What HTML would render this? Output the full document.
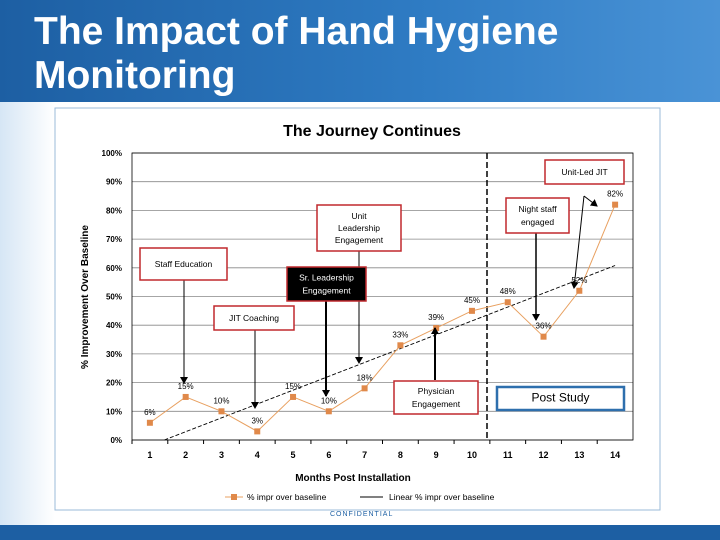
<!DOCTYPE html>
<html><head><meta charset="utf-8"><style>
body{margin:0;width:720px;height:540px;overflow:hidden;background:#fff;font-family:"Liberation Sans",sans-serif;position:relative}
#hdr{position:absolute;left:0;top:0;width:720px;height:102px;background:linear-gradient(90deg,#1d5fa3,#2f7cc4 60%,#4a93d6)}
#hdr h1{margin:0;position:absolute;left:34px;top:10px;color:#fff;font-size:39px;line-height:44px;font-weight:bold;white-space:nowrap}
#side{position:absolute;left:0;top:102px;width:55px;height:423px;background:linear-gradient(90deg,#d6e6f5,#fff)}
#foot{position:absolute;left:0;top:525px;width:720px;height:15px;background:#1d5fa3}
#conf{position:absolute;left:330px;top:511px;font-size:7px;letter-spacing:1px;color:#1d5fa3}
</style></head><body>
<div id="hdr"><h1>The Impact of Hand Hygiene<br>Monitoring</h1></div>
<div id="side"></div>
<div id="foot"></div>
<div id="conf">CONFIDENTIAL</div>
<svg id="c" width="720" height="540" style="position:absolute;left:0;top:0"></svg>
<script>
const categories=[1,2,3,4,5,6,7,8,9,10,11,12,13,14];
const values=[6,15,10,3,15,10,18,33,39,45,48,36,52,82];
const yTicks=[0,10,20,30,40,50,60,70,80,90,100];
const yTickLabels=["0%","10%","20%","30%","40%","50%","60%","70%","80%","90%","100%"];
const NS="http://www.w3.org/2000/svg",svg=document.getElementById('c');
const L=132,R=633,T=153,B=440,step=(R-L)/categories.length;
const X=i=>L+step*(i+0.5), Xv=v=>L+step*(v-0.5), Y=v=>B-(B-T)*v/100;
function el(t,a,p){const e=document.createElementNS(NS,t);for(const k in a)e.setAttribute(k,a[k]);(p||svg).appendChild(e);return e;}
function tx(x,y,s,a){const e=el('text',Object.assign({x:x,y:y,'font-family':'Liberation Sans, sans-serif','font-size':9,'text-anchor':'middle',fill:'#000'},a||{}));e.textContent=s;return e;}
let bg=el('rect',{x:55,y:108,width:605,height:402,fill:'#fff',stroke:'#9bbbd8'});

let defs=el('defs',{});let m=el('marker',{id:'ah',markerWidth:8,markerHeight:8,refX:6,refY:4,orient:'auto',markerUnits:'userSpaceOnUse'},defs);el('path',{d:'M0,0L7,4L0,8Z',fill:'#000'},m);
let t=tx(372,136,'The Journey Continues',{'font-size':16,'font-weight':'bold'});
yTicks.forEach((v,i)=>{let g=el('line',{x1:L,x2:R,y1:Y(v),y2:Y(v),stroke:'#888','stroke-width':0.8});

let l=tx(122,Y(v)+3,yTickLabels[i],{'text-anchor':'end','font-size':8,'font-weight':'bold'});});
el('rect',{x:L,y:T,width:R-L,height:B-T,fill:'none',stroke:'#000','stroke-width':0.8});
categories.forEach((c,i)=>{el('line',{x1:L+step*i,x2:L+step*i,y1:B,y2:B+4,stroke:'#000'});
let l=tx(X(i),458,c,{'font-size':9,'font-weight':'bold'});});
let xt=tx(353,481,'Months Post Installation',{'font-size':10,'font-weight':'bold'});
let yt=tx(0,0,'% Improvement Over Baseline',{'font-size':10,'font-weight':'bold',transform:'translate(88,297) rotate(-90)'});
const n=values.length,mx=categories.reduce((a,b)=>a+b)/n,my=values.reduce((a,b)=>a+b)/n;
let sxy=0,sxx=0;categories.forEach((c,i)=>{sxy+=(c-mx)*(values[i]-my);sxx+=(c-mx)*(c-mx);});
const sl=sxy/sxx,ic=my-sl*mx,x0=-ic/sl;
let tr=el('line',{x1:Xv(x0),y1:Y(0),x2:Xv(14),y2:Y(ic+sl*14),stroke:'#000','stroke-width':0.9,'stroke-dasharray':'4,2'});

let dv=el('line',{x1:487,x2:487,y1:T,y2:B,stroke:'#000','stroke-width':1.5,'stroke-dasharray':'6,3'});
let pl=el('polyline',{points:values.map((v,i)=>X(i)+','+Y(v)).join(' '),fill:'none',stroke:'#e8a060','stroke-width':1});

values.forEach((v,i)=>{let r=el('rect',{x:X(i)-3,y:Y(v)-3,width:6,height:6,fill:'#e0894a'});
let l=tx(X(i),Y(v)-8,v+'%',{'font-size':8});});
function box(x,y,w,h,lines,name,opt){opt=opt||{};let g=el('g',{});
el('rect',{x:x,y:y,width:w,height:h,fill:opt.fill||'#fff',stroke:opt.stroke||'#c0282d','stroke-width':opt.sw||1.5},g);
const lh=opt.lh||12,fs=opt.fs||8.5;lines.forEach((s,i)=>{const e=el('text',{x:x+w/2,y:y+h/2+(i-(lines.length-1)/2)*lh+3,'text-anchor':'middle','font-size':fs,'font-family':'Liberation Sans, sans-serif',fill:opt.color||'#000','font-weight':opt.fw||'normal'},g);e.textContent=s;});}
function arr(x1,y1,x2,y2,w){let a=el('line',{x1:x1,y1:y1,x2:x2,y2:y2,stroke:'#000','stroke-width':w||1,'marker-end':'url(#ah)'});}
arr(184,280,184,383);arr(255,330,255,408);arr(326,301,326,396,2);arr(359,251,359,363);arr(435,380,435,328,2);arr(536,233,536,320,1.5);arr(584,196,574,288);arr(584,196,597,206);
box(140,248,87,32,['Staff Education'],'staff-education-box');
box(214,306,80,24,['JIT Coaching'],'jit-coaching-box');
box(317,205,84,46,['Unit','Leadership','Engagement'],'unit-leadership-box',{lh:12});
box(287,267,79,34,['Sr. Leadership','Engagement'],'sr-leadership-box',{fill:'#000',color:'#fff',lh:13});
box(394,381,84,33,['Physician','Engagement'],'physician-box',{lh:13});
box(506,198,63,35,['Night staff','engaged'],'night-staff-box',{lh:13});
box(545,160,79,24,['Unit-Led JIT'],'unit-led-jit-box');
box(497,387,127,23,['Post Study'],'post-study-box',{stroke:'#2e6fad',sw:2.5,fs:12});
let lg=el('g',{});
el('line',{x1:225,x2:243,y1:497,y2:497,stroke:'#e8a060'},lg);el('rect',{x:231,y:494,width:6,height:6,fill:'#e0894a'},lg);
let a1=el('text',{x:247,y:500,'font-size':8.5,'font-family':'Liberation Sans, sans-serif'},lg);a1.textContent='% impr over baseline';
el('line',{x1:360,x2:383,y1:497,y2:497,stroke:'#000'},lg);
let a2=el('text',{x:389,y:500,'font-size':8.5,'font-family':'Liberation Sans, sans-serif'},lg);a2.textContent='Linear % impr over baseline';
</script>
</body></html>
